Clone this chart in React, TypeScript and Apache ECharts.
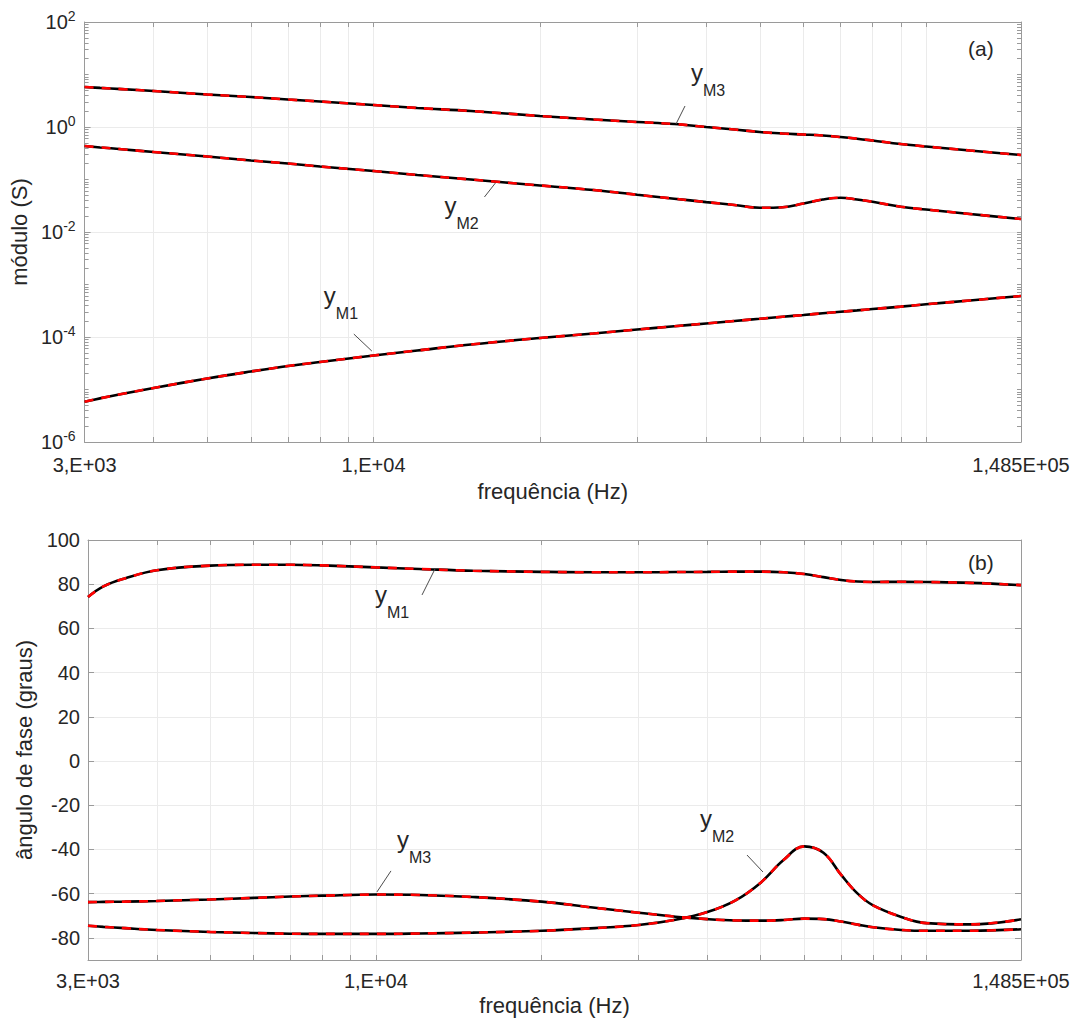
import React, { useEffect, useRef } from 'react';
import * as echarts from 'echarts';

// ---------- data ----------
const freq = [3000, 3200, 3500, 4000, 5000, 6000, 7000, 8000, 10000, 12000, 15000, 20000, 25000, 30000, 35000, 40000, 45000, 50000, 55000, 60000, 65000, 70000, 75000, 80000, 90000, 100000, 120000, 148500];

// módulo (S)
const modM1 = [5.86e-6, 6.77e-6, 8.21e-6, 1.07e-5, 1.62e-5, 2.2e-5, 2.8e-5, 3.34e-5, 4.44e-5, 5.53e-5, 7.2e-5, 9.57e-5, 1.166e-4, 1.39e-4, 1.6e-4, 1.81e-4, 2.02e-4, 2.22e-4, 2.43e-4, 2.62e-4, 2.83e-4, 3.02e-4, 3.21e-4, 3.41e-4, 3.79e-4, 4.2e-4, 4.96e-4, 6.04e-4];
const modM2 = [0.435, 0.408, 0.378, 0.334, 0.274, 0.23, 0.2017, 0.1768, 0.1451, 0.1218, 0.1, 0.0769, 0.0631, 0.0511, 0.0431, 0.0371, 0.0327, 0.0289, 0.0297, 0.0349, 0.0416, 0.045, 0.0416, 0.0376, 0.0303, 0.0268, 0.022, 0.0177];
const modM3 = [5.78, 5.56, 5.27, 4.85, 4.16, 3.73, 3.34, 3.06, 2.62, 2.3, 2.02, 1.62, 1.39, 1.245, 1.14, 1.0, 0.896, 0.803, 0.752, 0.72, 0.689, 0.645, 0.599, 0.553, 0.475, 0.425, 0.357, 0.293];

// ângulo de fase (graus)
const angM1 = [74.2, 79.0, 82.6, 86.3, 88.4, 88.8, 88.8, 88.5, 87.6, 86.9, 86.1, 85.6, 85.4, 85.4, 85.5, 85.6, 85.7, 85.7, 85.4, 84.6, 83.2, 81.9, 81.2, 81.0, 81.1, 81.0, 80.6, 79.6];
const angM2 = [-74.5, -75.0, -75.6, -76.4, -77.3, -77.8, -78.1, -78.2, -78.2, -78.0, -77.6, -76.8, -75.6, -74.2, -71.8, -68.3, -63.0, -55.0, -44.8, -38.6, -41.5, -51.5, -60.0, -65.3, -70.5, -73.3, -73.9, -71.6];
const angM3 = [-63.8, -63.7, -63.6, -63.3, -62.6, -61.9, -61.3, -60.9, -60.4, -60.6, -61.5, -63.6, -66.4, -68.6, -70.4, -71.5, -72.1, -72.2, -71.9, -71.3, -71.5, -72.6, -74.0, -75.2, -76.4, -76.8, -76.8, -76.1];

// ticks
const xLabelValues = [3000, 10000, 148500];
const xLabelTexts = ['3,E+03', '1,E+04', '1,485E+05'];
const xTickValues = [3000, 4000, 5000, 6000, 7000, 8000, 9000, 10000, 20000, 30000, 40000, 50000, 60000, 70000, 80000, 90000, 100000, 148500];
const yTopLabelValues = [1e-6, 1e-4, 1e-2, 1, 100];
const yTopOddDecades = [1e-5, 1e-3, 1e-1, 10];
const yBotTickValues = [-80, -60, -40, -20, 0, 20, 40, 60, 80, 100];

// ---------- styles ----------
const FONT = '"Liberation Sans", Arial, Helvetica, sans-serif';
const TEXT = '#262626';
const AXIS = '#9a9a9a';
const GRIDC = '#ebebeb';

const yTopMinor: number[] = [...yTopOddDecades];
for (let k = -6; k <= 1; k++) {
  for (let m = 2; m <= 9; m++) yTopMinor.push(Number((m * Math.pow(10, k)).toPrecision(3)));
}

function pairs(vals: number[]) {
  return freq.map((f, i) => [f, vals[i]]);
}

function curve(name: string, vals: number[], xi: number, yi: number) {
  const base = {
    type: 'line',
    xAxisIndex: xi,
    yAxisIndex: yi,
    data: pairs(vals),
    showSymbol: false,
    symbol: 'none',
    smooth: 0.4,
    silent: true,
  };
  return [
    { ...base, name: name + ' medido', lineStyle: { color: '#000000', width: 2.6 }, z: 2 },
    { ...base, name: name + ' calculado', lineStyle: { color: '#ff0000', width: 2.6, type: [9, 8] }, z: 3 },
  ];
}

const annotations = [
  { xi: 0, yi: 0, sub: 'M1', tip: [9930, 5.4e-5], tail: [-18, -17], label: [-48, -68] },
  { xi: 0, yi: 0, sub: 'M2', tip: [16620, 0.0858], tail: [-11, 14], label: [-51, 11] },
  { xi: 0, yi: 0, sub: 'M3', tip: [35270, 1.14], tail: [9, -18], label: [15, -64] },
  { xi: 2, yi: 3, sub: 'M1', tip: [12805, 86.9], tail: [-13, 26], label: [-60, 14] },
  { xi: 2, yi: 3, sub: 'M3', tip: [10046, -59.2], tail: [14, -21], label: [20, -64] },
  { xi: 2, yi: 3, sub: 'M2', tip: [50480, -50.2], tail: [-16, -17], label: [-63, -66] },
];

const labelStyle = { color: TEXT, fontSize: 20, fontFamily: FONT };
const nameStyle = { color: TEXT, fontSize: 22, fontFamily: FONT };

function xAxes(grid: number, labelMargin: number, nameGap: number) {
  return [
    {
      gridIndex: grid,
      type: 'log',
      logBase: 10,
      min: 3000,
      max: 148500,
      position: 'bottom',
      name: 'frequência (Hz)',
      nameLocation: 'middle',
      nameGap,
      nameTextStyle: nameStyle,
      axisLine: { show: true, onZero: false, lineStyle: { color: AXIS, width: 1 } },
      axisTick: { show: true, inside: true, length: 5, customValues: xTickValues, lineStyle: { color: AXIS } },
      axisLabel: {
        ...labelStyle,
        margin: labelMargin,
        customValues: xLabelValues,
        showMinLabel: true,
        showMaxLabel: true,
        formatter: (v: number) => {
          const i = xLabelValues.findIndex((x) => Math.abs(x - v) / x < 1e-6);
          return i >= 0 ? xLabelTexts[i] : '';
        },
      },
      splitLine: { show: true, lineStyle: { color: GRIDC, width: 1 } },
    },
    {
      gridIndex: grid,
      type: 'log',
      logBase: 10,
      min: 3000,
      max: 148500,
      position: 'top',
      axisLine: { show: true, onZero: false, lineStyle: { color: AXIS, width: 1 } },
      axisTick: { show: true, inside: true, length: 5, customValues: xTickValues, lineStyle: { color: AXIS } },
      axisLabel: { show: false },
      splitLine: { show: false },
    },
  ];
}

export default function App() {
  const ref = useRef<HTMLDivElement>(null);

  useEffect(() => {
    if (!ref.current) return;
    const chart = echarts.init(ref.current, undefined, { renderer: 'svg' });

    const option: any = {
      animation: false,
      backgroundColor: '#ffffff',
      textStyle: { fontFamily: FONT },
      grid: [
        { left: 82, top: 22, width: 939, height: 420, show: false },
        { left: 88, top: 540, width: 933, height: 420, show: false },
      ],
      xAxis: [...xAxes(0, 13, 38), ...xAxes(1, 11, 34)],
      yAxis: [
        {
          gridIndex: 0,
          type: 'log',
          logBase: 10,
          min: 1e-6,
          max: 100,
          position: 'left',
          name: 'módulo (S)',
          nameLocation: 'middle',
          nameGap: 47,
          nameTextStyle: nameStyle,
          axisLine: { show: true, onZero: false, lineStyle: { color: AXIS, width: 1 } },
          axisTick: { show: true, inside: true, length: 6, customValues: yTopLabelValues, lineStyle: { color: AXIS } },
          axisLabel: {
            margin: 9,
            customValues: yTopLabelValues,
            formatter: (v: number) => `{b|10}{s|${Math.round(Math.log10(v))}}`,
            rich: {
              b: { fontSize: 20, lineHeight: 26, color: TEXT, fontFamily: FONT },
              s: { fontSize: 14, lineHeight: 14, verticalAlign: 'top', color: TEXT, fontFamily: FONT },
            },
          },
          splitLine: { show: true, lineStyle: { color: GRIDC, width: 1 } },
        },
        {
          gridIndex: 0,
          type: 'log',
          logBase: 10,
          min: 1e-6,
          max: 100,
          position: 'left',
          axisLine: { show: false, onZero: false },
          axisTick: { show: true, inside: true, length: 4, customValues: yTopMinor, lineStyle: { color: AXIS } },
          axisLabel: { show: false },
          splitLine: { show: false },
        },
        {
          gridIndex: 0,
          type: 'log',
          logBase: 10,
          min: 1e-6,
          max: 100,
          position: 'right',
          axisLine: { show: true, onZero: false, lineStyle: { color: AXIS, width: 1 } },
          axisTick: { show: true, inside: true, length: 4, customValues: [...yTopLabelValues, ...yTopMinor], lineStyle: { color: AXIS } },
          axisLabel: { show: false },
          splitLine: { show: false },
        },
        {
          gridIndex: 1,
          type: 'value',
          min: -90,
          max: 100,
          position: 'left',
          name: 'ângulo de fase (graus)',
          nameLocation: 'middle',
          nameGap: 47,
          nameTextStyle: nameStyle,
          axisLine: { show: true, onZero: false, lineStyle: { color: AXIS, width: 1 } },
          axisTick: { show: true, inside: true, length: 6, customValues: yBotTickValues, lineStyle: { color: AXIS } },
          axisLabel: { ...labelStyle, margin: 8, customValues: yBotTickValues },
          splitLine: { show: true, lineStyle: { color: GRIDC, width: 1 } },
        },
        {
          gridIndex: 1,
          type: 'value',
          min: -90,
          max: 100,
          position: 'right',
          axisLine: { show: true, onZero: false, lineStyle: { color: AXIS, width: 1 } },
          axisTick: { show: true, inside: true, length: 6, customValues: yBotTickValues, lineStyle: { color: AXIS } },
          axisLabel: { show: false },
          splitLine: { show: false },
        },
      ],
      series: [
        ...curve('yM3', modM3, 0, 0),
        ...curve('yM2', modM2, 0, 0),
        ...curve('yM1', modM1, 0, 0),
        ...curve('yM1', angM1, 2, 3),
        ...curve('yM2', angM2, 2, 3),
        ...curve('yM3', angM3, 2, 3),
      ],
    };

    chart.setOption(option);

    const richAnn = {
      y: { fontSize: 24, lineHeight: 28, verticalAlign: 'top', fill: TEXT, fontFamily: FONT },
      s: { fontSize: 16, verticalAlign: 'top', padding: [22, 0, 0, 0], fill: TEXT, fontFamily: FONT },
    };

    const graphics: any[] = [
      { type: 'text', x: 968, y: 38, z: 20, style: { text: '(a)', fill: TEXT, fontSize: 21, fontFamily: FONT, align: 'left', verticalAlign: 'top' } },
      { type: 'text', x: 968, y: 552, z: 20, style: { text: '(b)', fill: TEXT, fontSize: 21, fontFamily: FONT, align: 'left', verticalAlign: 'top' } },
    ];
    annotations.forEach((a) => {
      const p = chart.convertToPixel({ xAxisIndex: a.xi, yAxisIndex: a.yi } as any, a.tip) as number[];
      graphics.push({
        type: 'line',
        z: 20,
        silent: true,
        shape: { x1: p[0] + a.tail[0], y1: p[1] + a.tail[1], x2: p[0], y2: p[1] },
        style: { stroke: '#4d4d4d', lineWidth: 1 },
      });
      graphics.push({
        type: 'text',
        z: 20,
        x: p[0] + a.label[0],
        y: p[1] + a.label[1],
        style: { text: `{y|y}{s|${a.sub}}`, rich: richAnn, fill: TEXT, fontFamily: FONT, align: 'left', verticalAlign: 'top' },
      });
    });
    chart.setOption({ graphic: graphics });

    return () => {
      chart.dispose();
    };
  }, []);

  return (
    <div
      ref={ref}
      style={{ position: 'fixed', left: 0, top: 0, width: 1076, height: 1021, background: '#fff' }}
    />
  );
}
